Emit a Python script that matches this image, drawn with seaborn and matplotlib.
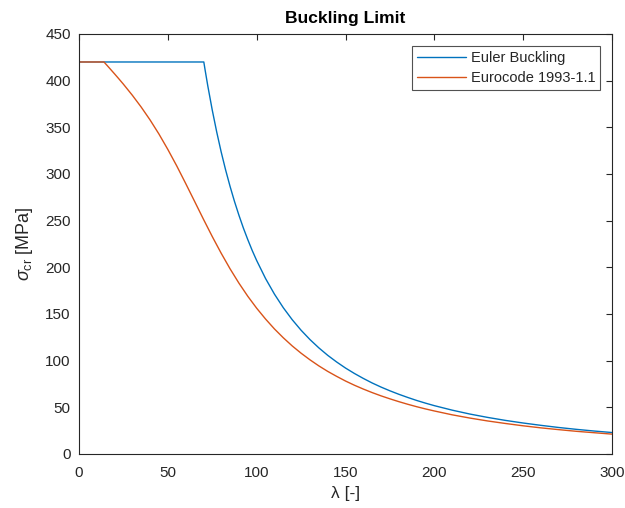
import numpy as np
import pandas as pd
import matplotlib
matplotlib.use("Agg")
import matplotlib.pyplot as plt
import seaborn as sns

# Euler buckling curve (slenderness vs critical stress, MPa)
euler_lambda = [0, 70.25, 71, 72.5, 75, 77.5, 80, 82.5, 85, 87.5, 90, 92.5, 95, 97.5,
                100, 105, 110, 115, 120, 125, 130, 135, 140, 145, 150, 155, 160,
                165, 170, 175, 180, 185, 190, 195, 200, 210, 220, 230, 240, 250,
                260, 270, 280, 290, 300]
euler_sigma = [420, 420, 411.2, 394.3, 368.5, 345.1, 323.8, 304.5, 286.9, 270.7,
               255.9, 242.2, 229.7, 218.0, 207.3, 188.0, 171.3, 156.7, 143.9, 132.6,
               122.6, 113.7, 105.7, 98.6, 92.1, 86.3, 81.0, 76.1, 71.7, 67.7, 64.0,
               60.6, 57.4, 54.5, 51.8, 47.0, 42.8, 39.2, 36.0, 33.2, 30.7, 28.4,
               26.4, 24.6, 23.0]

# Eurocode 1993-1.1 curve
ec_lambda = [0, 14.05, 16, 18, 20, 22.5, 25, 30, 35, 40, 45, 50, 55, 60, 65, 70, 75,
             80, 85, 90, 95, 100, 105, 110, 115, 120, 125, 130, 135, 140, 145, 150,
             155, 160, 165, 170, 175, 180, 185, 190, 195, 200, 210, 220, 230, 240,
             250, 260, 270, 280, 290, 300]
ec_sigma = [420, 420, 415.9, 411.6, 407.3, 401.8, 396.2, 384.4, 371.7, 357.9, 342.8,
            326.3, 308.7, 290.0, 270.9, 251.7, 233.0, 215.2, 198.5, 183.1, 169.0,
            156.2, 144.6, 134.0, 124.5, 115.8, 108.0, 100.9, 94.4, 88.5, 83.2, 78.2,
            73.7, 69.6, 65.8, 62.3, 59.1, 56.1, 53.3, 50.7, 48.3, 46.1, 42.0, 38.5,
            35.4, 32.7, 30.2, 28.0, 26.1, 24.3, 22.8, 21.3]

series_names = ["Euler Buckling", "Eurocode 1993-1.1"]
x_ticks = [0, 50, 100, 150, 200, 250, 300]
y_ticks = [0, 50, 100, 150, 200, 250, 300, 350, 400, 450]

sns.set_style("white")
plt.rcParams["font.family"] = ["Liberation Sans", "DejaVu Sans"]
plt.rcParams["mathtext.fontset"] = "custom"
plt.rcParams["mathtext.rm"] = "Liberation Sans"
plt.rcParams["mathtext.it"] = "Liberation Sans:italic"

df = pd.concat([
    pd.DataFrame({"lam": euler_lambda, "sig": euler_sigma, "series": series_names[0]}),
    pd.DataFrame({"lam": ec_lambda, "sig": ec_sigma, "series": series_names[1]}),
])

fig = plt.figure(figsize=(6.25, 5.08), dpi=100)
ax = fig.add_axes([0.1264, 0.1063, 0.8528, 0.8268])

sns.lineplot(data=df, x="lam", y="sig", hue="series", sort=False,
             palette=["#0072BD", "#D95319"], linewidth=1.0, ax=ax, estimator=None)

ax.set_xlim(0, 300)
ax.set_ylim(0, 450)
ax.set_xticks(x_ticks)
ax.set_yticks(y_ticks)
edge = "#262626"
for s in ax.spines.values():
    s.set_visible(True)
    s.set_color(edge)
    s.set_linewidth(0.8)
ax.tick_params(direction="in", length=4, width=0.8, color=edge,
               top=True, right=True, labelsize=11, labelcolor=edge)
ax.tick_params(axis="x", pad=9)
ax.tick_params(axis="y", pad=6)

ax.set_xlabel("λ [-]", fontsize=12.5, color=edge, labelpad=4)
ax.set_ylabel(r"$\sigma_{\rm cr}$ [MPa]", fontsize=13, color=edge, labelpad=7)
ax.set_title("Buckling Limit", fontsize=12.6, fontweight="bold", color="black", pad=8)

leg = ax.legend(loc="upper right", fontsize=10.5, frameon=True, fancybox=False,
                edgecolor=edge, handlelength=3.4, handletextpad=0.3,
                borderaxespad=0.85, borderpad=0.3, labelspacing=0.45)
leg.get_frame().set_linewidth(0.8)
leg.set_title(None)

fig.savefig("out.png", dpi=100)
